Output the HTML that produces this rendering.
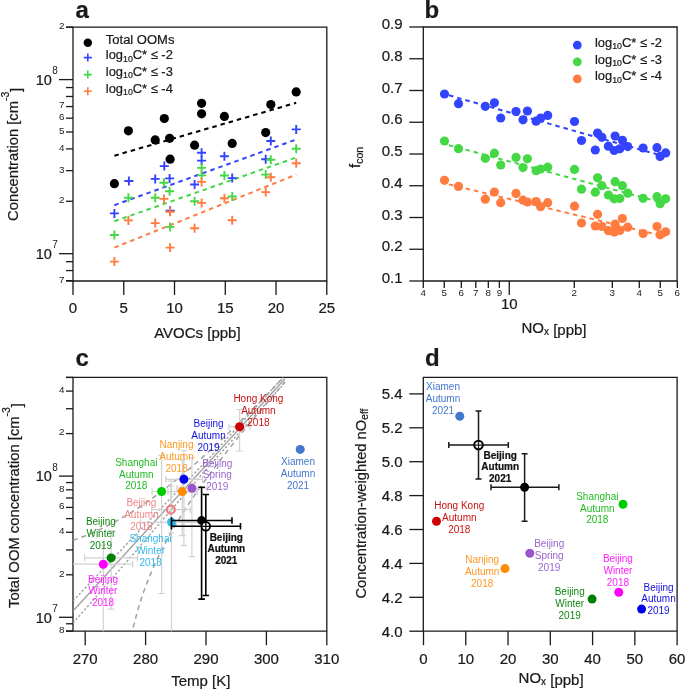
<!DOCTYPE html>
<html><head><meta charset="utf-8"><style>
html,body{margin:0;padding:0;background:#fff;}
svg{display:block;font-family:"Liberation Sans", sans-serif;will-change:transform;}
text{stroke:currentColor;stroke-width:0.22px;}
</style></head><body>
<svg width="685" height="689" viewBox="0 0 685 689">
<rect width="685" height="689" fill="#fff"/>
<g id="pa">
<text x="75.50" y="18.00" font-size="24" text-anchor="start" fill="#1a1a1a" color="#1a1a1a" font-weight="bold" >a</text>
<path d="M73 27.2H326.8V281H73Z" fill="none" stroke="#1a1a1a" stroke-width="1.3"/>
<line x1="59.00" y1="253.70" x2="73.00" y2="253.70" stroke="#1a1a1a" stroke-width="1.3" />
<line x1="59.00" y1="79.60" x2="73.00" y2="79.60" stroke="#1a1a1a" stroke-width="1.3" />
<line x1="66.00" y1="280.67" x2="73.00" y2="280.67" stroke="#1a1a1a" stroke-width="1.3" />
<line x1="66.00" y1="270.57" x2="73.00" y2="270.57" stroke="#1a1a1a" stroke-width="1.3" />
<line x1="66.00" y1="261.67" x2="73.00" y2="261.67" stroke="#1a1a1a" stroke-width="1.3" />
<line x1="66.00" y1="201.29" x2="73.00" y2="201.29" stroke="#1a1a1a" stroke-width="1.3" />
<line x1="66.00" y1="170.63" x2="73.00" y2="170.63" stroke="#1a1a1a" stroke-width="1.3" />
<line x1="66.00" y1="148.88" x2="73.00" y2="148.88" stroke="#1a1a1a" stroke-width="1.3" />
<line x1="66.00" y1="132.01" x2="73.00" y2="132.01" stroke="#1a1a1a" stroke-width="1.3" />
<line x1="66.00" y1="118.22" x2="73.00" y2="118.22" stroke="#1a1a1a" stroke-width="1.3" />
<line x1="66.00" y1="106.57" x2="73.00" y2="106.57" stroke="#1a1a1a" stroke-width="1.3" />
<line x1="66.00" y1="96.47" x2="73.00" y2="96.47" stroke="#1a1a1a" stroke-width="1.3" />
<line x1="66.00" y1="87.57" x2="73.00" y2="87.57" stroke="#1a1a1a" stroke-width="1.3" />
<line x1="66.00" y1="27.19" x2="73.00" y2="27.19" stroke="#1a1a1a" stroke-width="1.3" />
<line x1="66.00" y1="27.20" x2="73.00" y2="27.20" stroke="#1a1a1a" stroke-width="1.3" />
<line x1="66.00" y1="281.00" x2="73.00" y2="281.00" stroke="#1a1a1a" stroke-width="1.3" />
<text x="64.50" y="29.09" font-size="9.8" text-anchor="end" fill="#1a1a1a" color="#1a1a1a" font-weight="normal" style="stroke-width:0" >2</text>
<text x="64.50" y="108.47" font-size="9.8" text-anchor="end" fill="#1a1a1a" color="#1a1a1a" font-weight="normal" style="stroke-width:0" >7</text>
<text x="64.50" y="120.12" font-size="9.8" text-anchor="end" fill="#1a1a1a" color="#1a1a1a" font-weight="normal" style="stroke-width:0" >6</text>
<text x="64.50" y="133.91" font-size="9.8" text-anchor="end" fill="#1a1a1a" color="#1a1a1a" font-weight="normal" style="stroke-width:0" >5</text>
<text x="64.50" y="150.78" font-size="9.8" text-anchor="end" fill="#1a1a1a" color="#1a1a1a" font-weight="normal" style="stroke-width:0" >4</text>
<text x="64.50" y="172.53" font-size="9.8" text-anchor="end" fill="#1a1a1a" color="#1a1a1a" font-weight="normal" style="stroke-width:0" >3</text>
<text x="64.50" y="203.19" font-size="9.8" text-anchor="end" fill="#1a1a1a" color="#1a1a1a" font-weight="normal" style="stroke-width:0" >2</text>
<text x="64.50" y="282.57" font-size="9.8" text-anchor="end" fill="#1a1a1a" color="#1a1a1a" font-weight="normal" style="stroke-width:0" >7</text>
<text x="51.80" y="84.80" font-size="14.5" text-anchor="end" fill="#1a1a1a" color="#1a1a1a" font-weight="normal" >10</text>
<text x="52.30" y="74.10" font-size="10" text-anchor="start" fill="#1a1a1a" color="#1a1a1a" font-weight="normal" style="stroke-width:0" >8</text>
<text x="51.80" y="258.90" font-size="14.5" text-anchor="end" fill="#1a1a1a" color="#1a1a1a" font-weight="normal" >10</text>
<text x="52.30" y="248.20" font-size="10" text-anchor="start" fill="#1a1a1a" color="#1a1a1a" font-weight="normal" style="stroke-width:0" >7</text>
<line x1="73.00" y1="281.00" x2="73.00" y2="295.00" stroke="#1a1a1a" stroke-width="1.3" />
<text x="73.00" y="312.60" font-size="15" text-anchor="middle" fill="#1a1a1a" color="#1a1a1a" font-weight="normal" >0</text>
<line x1="123.76" y1="281.00" x2="123.76" y2="295.00" stroke="#1a1a1a" stroke-width="1.3" />
<text x="123.76" y="312.60" font-size="15" text-anchor="middle" fill="#1a1a1a" color="#1a1a1a" font-weight="normal" >5</text>
<line x1="174.52" y1="281.00" x2="174.52" y2="295.00" stroke="#1a1a1a" stroke-width="1.3" />
<text x="174.52" y="312.60" font-size="15" text-anchor="middle" fill="#1a1a1a" color="#1a1a1a" font-weight="normal" >10</text>
<line x1="225.28" y1="281.00" x2="225.28" y2="295.00" stroke="#1a1a1a" stroke-width="1.3" />
<text x="225.28" y="312.60" font-size="15" text-anchor="middle" fill="#1a1a1a" color="#1a1a1a" font-weight="normal" >15</text>
<line x1="276.04" y1="281.00" x2="276.04" y2="295.00" stroke="#1a1a1a" stroke-width="1.3" />
<text x="276.04" y="312.60" font-size="15" text-anchor="middle" fill="#1a1a1a" color="#1a1a1a" font-weight="normal" >20</text>
<line x1="326.80" y1="281.00" x2="326.80" y2="295.00" stroke="#1a1a1a" stroke-width="1.3" />
<text x="326.80" y="312.60" font-size="15" text-anchor="middle" fill="#1a1a1a" color="#1a1a1a" font-weight="normal" >25</text>
<text x="197.40" y="337.80" font-size="15" text-anchor="middle" fill="#1a1a1a" color="#1a1a1a" font-weight="normal" >AVOCs [ppb]</text>
<text transform="translate(18.4,221) rotate(-90)" font-size="14.8" fill="#1a1a1a" color="#1a1a1a">Concentration [cm<tspan dy="-9.7" font-size="10.5">-3</tspan><tspan dy="12.5" dx="-0.3">]</tspan></text>
<line x1="114.40" y1="155.70" x2="296.20" y2="102.80" stroke="#000" stroke-width="2" stroke-dasharray="4.5 4"/>
<line x1="114.40" y1="205.20" x2="296.20" y2="139.50" stroke="#3344ff" stroke-width="2" stroke-dasharray="4.5 4"/>
<line x1="114.40" y1="221.30" x2="296.20" y2="157.50" stroke="#45d845" stroke-width="2" stroke-dasharray="4.5 4"/>
<line x1="114.40" y1="247.60" x2="296.20" y2="174.60" stroke="#ff7b3f" stroke-width="2" stroke-dasharray="4.5 4"/>
<circle cx="114.40" cy="183.70" r="4.6" fill="#000" stroke="none" stroke-width="0"/>
<circle cx="128.40" cy="130.80" r="4.6" fill="#000" stroke="none" stroke-width="0"/>
<circle cx="164.30" cy="118.50" r="4.6" fill="#000" stroke="none" stroke-width="0"/>
<circle cx="155.20" cy="139.90" r="4.6" fill="#000" stroke="none" stroke-width="0"/>
<circle cx="169.60" cy="138.30" r="4.6" fill="#000" stroke="none" stroke-width="0"/>
<circle cx="170.10" cy="159.20" r="4.6" fill="#000" stroke="none" stroke-width="0"/>
<circle cx="201.60" cy="103.30" r="4.6" fill="#000" stroke="none" stroke-width="0"/>
<circle cx="201.60" cy="113.80" r="4.6" fill="#000" stroke="none" stroke-width="0"/>
<circle cx="194.60" cy="145.20" r="4.6" fill="#000" stroke="none" stroke-width="0"/>
<circle cx="224.40" cy="116.40" r="4.6" fill="#000" stroke="none" stroke-width="0"/>
<circle cx="270.80" cy="104.50" r="4.6" fill="#000" stroke="none" stroke-width="0"/>
<circle cx="296.20" cy="91.90" r="4.6" fill="#000" stroke="none" stroke-width="0"/>
<circle cx="232.20" cy="143.40" r="4.6" fill="#000" stroke="none" stroke-width="0"/>
<circle cx="265.70" cy="132.60" r="4.6" fill="#000" stroke="none" stroke-width="0"/>
<path d="M109.90 213.40H118.90M114.40 208.90V217.90" stroke="#3344ff" stroke-width="1.9" fill="none"/>
<path d="M124.40 181.00H133.40M128.90 176.50V185.50" stroke="#3344ff" stroke-width="1.9" fill="none"/>
<path d="M150.70 178.90H159.70M155.20 174.40V183.40" stroke="#3344ff" stroke-width="1.9" fill="none"/>
<path d="M159.80 166.10H168.80M164.30 161.60V170.60" stroke="#3344ff" stroke-width="1.9" fill="none"/>
<path d="M165.10 178.40H174.10M169.60 173.90V182.90" stroke="#3344ff" stroke-width="1.9" fill="none"/>
<path d="M165.60 210.80H174.60M170.10 206.30V215.30" stroke="#3344ff" stroke-width="1.9" fill="none"/>
<path d="M190.10 184.50H199.10M194.60 180.00V189.00" stroke="#3344ff" stroke-width="1.9" fill="none"/>
<path d="M197.10 152.70H206.10M201.60 148.20V157.20" stroke="#3344ff" stroke-width="1.9" fill="none"/>
<path d="M197.10 160.60H206.10M201.60 156.10V165.10" stroke="#3344ff" stroke-width="1.9" fill="none"/>
<path d="M219.90 156.20H228.90M224.40 151.70V160.70" stroke="#3344ff" stroke-width="1.9" fill="none"/>
<path d="M227.70 178.10H236.70M232.20 173.60V182.60" stroke="#3344ff" stroke-width="1.9" fill="none"/>
<path d="M261.20 159.20H270.20M265.70 154.70V163.70" stroke="#3344ff" stroke-width="1.9" fill="none"/>
<path d="M266.30 141.00H275.30M270.80 136.50V145.50" stroke="#3344ff" stroke-width="1.9" fill="none"/>
<path d="M291.70 129.40H300.70M296.20 124.90V133.90" stroke="#3344ff" stroke-width="1.9" fill="none"/>
<path d="M109.90 235.00H118.90M114.40 230.50V239.50" stroke="#45d845" stroke-width="1.9" fill="none"/>
<path d="M123.90 197.70H132.90M128.40 193.20V202.20" stroke="#45d845" stroke-width="1.9" fill="none"/>
<path d="M150.70 197.70H159.70M155.20 193.20V202.20" stroke="#45d845" stroke-width="1.9" fill="none"/>
<path d="M159.40 182.80H168.40M163.90 178.30V187.30" stroke="#45d845" stroke-width="1.9" fill="none"/>
<path d="M165.10 191.20H174.10M169.60 186.70V195.70" stroke="#45d845" stroke-width="1.9" fill="none"/>
<path d="M165.60 226.90H174.60M170.10 222.40V231.40" stroke="#45d845" stroke-width="1.9" fill="none"/>
<path d="M190.10 201.20H199.10M194.60 196.70V205.70" stroke="#45d845" stroke-width="1.9" fill="none"/>
<path d="M197.10 167.90H206.10M201.60 163.40V172.40" stroke="#45d845" stroke-width="1.9" fill="none"/>
<path d="M197.10 175.40H206.10M201.60 170.90V179.90" stroke="#45d845" stroke-width="1.9" fill="none"/>
<path d="M219.90 175.50H228.90M224.40 171.00V180.00" stroke="#45d845" stroke-width="1.9" fill="none"/>
<path d="M227.70 196.50H236.70M232.20 192.00V201.00" stroke="#45d845" stroke-width="1.9" fill="none"/>
<path d="M261.20 174.60H270.20M265.70 170.10V179.10" stroke="#45d845" stroke-width="1.9" fill="none"/>
<path d="M266.30 159.70H275.30M270.80 155.20V164.20" stroke="#45d845" stroke-width="1.9" fill="none"/>
<path d="M291.70 148.70H300.70M296.20 144.20V153.20" stroke="#45d845" stroke-width="1.9" fill="none"/>
<path d="M109.90 261.60H118.90M114.40 257.10V266.10" stroke="#ff7b3f" stroke-width="1.9" fill="none"/>
<path d="M123.90 220.40H132.90M128.40 215.90V224.90" stroke="#ff7b3f" stroke-width="1.9" fill="none"/>
<path d="M150.70 223.10H159.70M155.20 218.60V227.60" stroke="#ff7b3f" stroke-width="1.9" fill="none"/>
<path d="M159.40 198.90H168.40M163.90 194.40V203.40" stroke="#ff7b3f" stroke-width="1.9" fill="none"/>
<path d="M165.60 211.70H174.60M170.10 207.20V216.20" stroke="#ff7b3f" stroke-width="1.9" fill="none"/>
<path d="M165.60 247.60H174.60M170.10 243.10V252.10" stroke="#ff7b3f" stroke-width="1.9" fill="none"/>
<path d="M190.10 228.30H199.10M194.60 223.80V232.80" stroke="#ff7b3f" stroke-width="1.9" fill="none"/>
<path d="M197.10 181.90H206.10M201.60 177.40V186.40" stroke="#ff7b3f" stroke-width="1.9" fill="none"/>
<path d="M197.10 202.90H206.10M201.60 198.40V207.40" stroke="#ff7b3f" stroke-width="1.9" fill="none"/>
<path d="M219.90 198.30H228.90M224.40 193.80V202.80" stroke="#ff7b3f" stroke-width="1.9" fill="none"/>
<path d="M227.70 220.30H236.70M232.20 215.80V224.80" stroke="#ff7b3f" stroke-width="1.9" fill="none"/>
<path d="M261.20 192.10H270.20M265.70 187.60V196.60" stroke="#ff7b3f" stroke-width="1.9" fill="none"/>
<path d="M266.30 177.20H275.30M270.80 172.70V181.70" stroke="#ff7b3f" stroke-width="1.9" fill="none"/>
<path d="M291.70 163.20H300.70M296.20 158.70V167.70" stroke="#ff7b3f" stroke-width="1.9" fill="none"/>
<circle cx="87.80" cy="42.80" r="4.2" fill="#000" stroke="none" stroke-width="0"/>
<path d="M83.80 57.60H91.80M87.80 53.60V61.60" stroke="#3344ff" stroke-width="1.6" fill="none"/>
<path d="M83.80 74.60H91.80M87.80 70.60V78.60" stroke="#45d845" stroke-width="1.6" fill="none"/>
<path d="M83.80 91.30H91.80M87.80 87.30V95.30" stroke="#ff7b3f" stroke-width="1.6" fill="none"/>
<text x="105.80" y="44.30" font-size="13" text-anchor="start" fill="#1a1a1a" color="#1a1a1a" font-weight="normal" >Total OOMs</text>
<text x="105.8" y="58.9" font-size="12.9" fill="#1a1a1a" color="#1a1a1a">log<tspan font-size="8.8" dy="2.6">10</tspan><tspan dy="-2.6">C* &#8804; -2</tspan></text>
<text x="105.8" y="75.7" font-size="12.9" fill="#1a1a1a" color="#1a1a1a">log<tspan font-size="8.8" dy="2.6">10</tspan><tspan dy="-2.6">C* &#8804; -3</tspan></text>
<text x="105.8" y="92.5" font-size="12.9" fill="#1a1a1a" color="#1a1a1a">log<tspan font-size="8.8" dy="2.6">10</tspan><tspan dy="-2.6">C* &#8804; -4</tspan></text>
</g>
<g id="pb">
<text x="424.60" y="17.50" font-size="24" text-anchor="start" fill="#1a1a1a" color="#1a1a1a" font-weight="bold" >b</text>
<path d="M423.3 27.0H677.1V281H423.3Z" fill="none" stroke="#1a1a1a" stroke-width="1.3"/>
<line x1="409.30" y1="281.00" x2="423.30" y2="281.00" stroke="#1a1a1a" stroke-width="1.3" />
<text x="402.50" y="283.00" font-size="15" text-anchor="end" fill="#1a1a1a" color="#1a1a1a" font-weight="normal" >0.1</text>
<line x1="409.30" y1="249.25" x2="423.30" y2="249.25" stroke="#1a1a1a" stroke-width="1.3" />
<text x="402.50" y="251.25" font-size="15" text-anchor="end" fill="#1a1a1a" color="#1a1a1a" font-weight="normal" >0.2</text>
<line x1="409.30" y1="217.50" x2="423.30" y2="217.50" stroke="#1a1a1a" stroke-width="1.3" />
<text x="402.50" y="219.50" font-size="15" text-anchor="end" fill="#1a1a1a" color="#1a1a1a" font-weight="normal" >0.3</text>
<line x1="409.30" y1="185.75" x2="423.30" y2="185.75" stroke="#1a1a1a" stroke-width="1.3" />
<text x="402.50" y="187.75" font-size="15" text-anchor="end" fill="#1a1a1a" color="#1a1a1a" font-weight="normal" >0.4</text>
<line x1="409.30" y1="154.00" x2="423.30" y2="154.00" stroke="#1a1a1a" stroke-width="1.3" />
<text x="402.50" y="156.00" font-size="15" text-anchor="end" fill="#1a1a1a" color="#1a1a1a" font-weight="normal" >0.5</text>
<line x1="409.30" y1="122.25" x2="423.30" y2="122.25" stroke="#1a1a1a" stroke-width="1.3" />
<text x="402.50" y="124.25" font-size="15" text-anchor="end" fill="#1a1a1a" color="#1a1a1a" font-weight="normal" >0.6</text>
<line x1="409.30" y1="90.50" x2="423.30" y2="90.50" stroke="#1a1a1a" stroke-width="1.3" />
<text x="402.50" y="92.50" font-size="15" text-anchor="end" fill="#1a1a1a" color="#1a1a1a" font-weight="normal" >0.7</text>
<line x1="409.30" y1="58.75" x2="423.30" y2="58.75" stroke="#1a1a1a" stroke-width="1.3" />
<text x="402.50" y="60.75" font-size="15" text-anchor="end" fill="#1a1a1a" color="#1a1a1a" font-weight="normal" >0.8</text>
<line x1="409.30" y1="27.00" x2="423.30" y2="27.00" stroke="#1a1a1a" stroke-width="1.3" />
<text x="402.50" y="29.00" font-size="15" text-anchor="end" fill="#1a1a1a" color="#1a1a1a" font-weight="normal" >0.9</text>
<line x1="423.30" y1="281.00" x2="423.30" y2="288.00" stroke="#1a1a1a" stroke-width="1.3" />
<text x="423.30" y="295.70" font-size="9.8" text-anchor="middle" fill="#1a1a1a" color="#1a1a1a" font-weight="normal" style="stroke-width:0" >4</text>
<line x1="444.23" y1="281.00" x2="444.23" y2="288.00" stroke="#1a1a1a" stroke-width="1.3" />
<text x="444.23" y="295.70" font-size="9.8" text-anchor="middle" fill="#1a1a1a" color="#1a1a1a" font-weight="normal" style="stroke-width:0" >5</text>
<line x1="461.34" y1="281.00" x2="461.34" y2="288.00" stroke="#1a1a1a" stroke-width="1.3" />
<text x="461.34" y="295.70" font-size="9.8" text-anchor="middle" fill="#1a1a1a" color="#1a1a1a" font-weight="normal" style="stroke-width:0" >6</text>
<line x1="475.80" y1="281.00" x2="475.80" y2="288.00" stroke="#1a1a1a" stroke-width="1.3" />
<text x="475.80" y="295.70" font-size="9.8" text-anchor="middle" fill="#1a1a1a" color="#1a1a1a" font-weight="normal" style="stroke-width:0" >7</text>
<line x1="488.32" y1="281.00" x2="488.32" y2="288.00" stroke="#1a1a1a" stroke-width="1.3" />
<text x="488.32" y="295.70" font-size="9.8" text-anchor="middle" fill="#1a1a1a" color="#1a1a1a" font-weight="normal" style="stroke-width:0" >8</text>
<line x1="499.37" y1="281.00" x2="499.37" y2="288.00" stroke="#1a1a1a" stroke-width="1.3" />
<text x="499.37" y="295.70" font-size="9.8" text-anchor="middle" fill="#1a1a1a" color="#1a1a1a" font-weight="normal" style="stroke-width:0" >9</text>
<line x1="574.28" y1="281.00" x2="574.28" y2="288.00" stroke="#1a1a1a" stroke-width="1.3" />
<text x="574.28" y="295.70" font-size="9.8" text-anchor="middle" fill="#1a1a1a" color="#1a1a1a" font-weight="normal" style="stroke-width:0" >2</text>
<line x1="612.31" y1="281.00" x2="612.31" y2="288.00" stroke="#1a1a1a" stroke-width="1.3" />
<text x="612.31" y="295.70" font-size="9.8" text-anchor="middle" fill="#1a1a1a" color="#1a1a1a" font-weight="normal" style="stroke-width:0" >3</text>
<line x1="639.30" y1="281.00" x2="639.30" y2="288.00" stroke="#1a1a1a" stroke-width="1.3" />
<text x="639.30" y="295.70" font-size="9.8" text-anchor="middle" fill="#1a1a1a" color="#1a1a1a" font-weight="normal" style="stroke-width:0" >4</text>
<line x1="660.23" y1="281.00" x2="660.23" y2="288.00" stroke="#1a1a1a" stroke-width="1.3" />
<text x="660.23" y="295.70" font-size="9.8" text-anchor="middle" fill="#1a1a1a" color="#1a1a1a" font-weight="normal" style="stroke-width:0" >5</text>
<line x1="677.34" y1="281.00" x2="677.34" y2="288.00" stroke="#1a1a1a" stroke-width="1.3" />
<text x="677.34" y="295.70" font-size="9.8" text-anchor="middle" fill="#1a1a1a" color="#1a1a1a" font-weight="normal" style="stroke-width:0" >6</text>
<line x1="509.26" y1="281.00" x2="509.26" y2="295.00" stroke="#1a1a1a" stroke-width="1.3" />
<text x="509.26" y="309.30" font-size="15" text-anchor="middle" fill="#1a1a1a" color="#1a1a1a" font-weight="normal" >10</text>
<text x="521.5" y="332.5" font-size="15" fill="#1a1a1a" color="#1a1a1a">NO<tspan font-size="10" dy="2.6">x</tspan><tspan dy="0.1" font-size="15"> [ppb]</tspan></text>
<text transform="translate(359.8,168) rotate(-90)" font-size="15" fill="#1a1a1a" color="#1a1a1a">f<tspan font-size="10.5" dy="3">con</tspan></text>
<line x1="449.00" y1="95.30" x2="665.00" y2="156.60" stroke="#3344ff" stroke-width="2" stroke-dasharray="4.5 4"/>
<line x1="449.00" y1="145.20" x2="665.00" y2="203.40" stroke="#45d845" stroke-width="2" stroke-dasharray="4.5 4"/>
<line x1="449.00" y1="184.40" x2="665.00" y2="236.50" stroke="#ff7b3f" stroke-width="2" stroke-dasharray="4.5 4"/>
<circle cx="444.50" cy="94.00" r="4.6" fill="#3344ff" stroke="none" stroke-width="0"/>
<circle cx="458.50" cy="103.70" r="4.6" fill="#3344ff" stroke="none" stroke-width="0"/>
<circle cx="485.30" cy="106.30" r="4.6" fill="#3344ff" stroke="none" stroke-width="0"/>
<circle cx="494.40" cy="102.80" r="4.6" fill="#3344ff" stroke="none" stroke-width="0"/>
<circle cx="500.70" cy="118.00" r="4.6" fill="#3344ff" stroke="none" stroke-width="0"/>
<circle cx="516.00" cy="111.50" r="4.6" fill="#3344ff" stroke="none" stroke-width="0"/>
<circle cx="523.00" cy="119.80" r="4.6" fill="#3344ff" stroke="none" stroke-width="0"/>
<circle cx="527.40" cy="111.00" r="4.6" fill="#3344ff" stroke="none" stroke-width="0"/>
<circle cx="536.10" cy="121.20" r="4.6" fill="#3344ff" stroke="none" stroke-width="0"/>
<circle cx="540.60" cy="118.20" r="4.6" fill="#3344ff" stroke="none" stroke-width="0"/>
<circle cx="547.70" cy="115.40" r="4.6" fill="#3344ff" stroke="none" stroke-width="0"/>
<circle cx="574.50" cy="121.50" r="4.6" fill="#3344ff" stroke="none" stroke-width="0"/>
<circle cx="581.50" cy="140.50" r="4.6" fill="#3344ff" stroke="none" stroke-width="0"/>
<circle cx="595.30" cy="150.00" r="4.6" fill="#3344ff" stroke="none" stroke-width="0"/>
<circle cx="597.60" cy="133.00" r="4.6" fill="#3344ff" stroke="none" stroke-width="0"/>
<circle cx="601.90" cy="137.30" r="4.6" fill="#3344ff" stroke="none" stroke-width="0"/>
<circle cx="608.40" cy="146.20" r="4.6" fill="#3344ff" stroke="none" stroke-width="0"/>
<circle cx="614.20" cy="150.50" r="4.6" fill="#3344ff" stroke="none" stroke-width="0"/>
<circle cx="615.10" cy="136.00" r="4.6" fill="#3344ff" stroke="none" stroke-width="0"/>
<circle cx="619.80" cy="148.80" r="4.6" fill="#3344ff" stroke="none" stroke-width="0"/>
<circle cx="622.40" cy="140.30" r="4.6" fill="#3344ff" stroke="none" stroke-width="0"/>
<circle cx="627.70" cy="146.60" r="4.6" fill="#3344ff" stroke="none" stroke-width="0"/>
<circle cx="643.10" cy="148.00" r="4.6" fill="#3344ff" stroke="none" stroke-width="0"/>
<circle cx="657.00" cy="147.70" r="4.6" fill="#3344ff" stroke="none" stroke-width="0"/>
<circle cx="660.10" cy="156.40" r="4.6" fill="#3344ff" stroke="none" stroke-width="0"/>
<circle cx="665.70" cy="152.90" r="4.6" fill="#3344ff" stroke="none" stroke-width="0"/>
<circle cx="444.50" cy="141.00" r="4.6" fill="#45d845" stroke="none" stroke-width="0"/>
<circle cx="458.50" cy="148.70" r="4.6" fill="#45d845" stroke="none" stroke-width="0"/>
<circle cx="485.30" cy="158.30" r="4.6" fill="#45d845" stroke="none" stroke-width="0"/>
<circle cx="494.40" cy="153.20" r="4.6" fill="#45d845" stroke="none" stroke-width="0"/>
<circle cx="500.70" cy="165.00" r="4.6" fill="#45d845" stroke="none" stroke-width="0"/>
<circle cx="516.00" cy="157.40" r="4.6" fill="#45d845" stroke="none" stroke-width="0"/>
<circle cx="523.00" cy="167.60" r="4.6" fill="#45d845" stroke="none" stroke-width="0"/>
<circle cx="527.40" cy="158.80" r="4.6" fill="#45d845" stroke="none" stroke-width="0"/>
<circle cx="536.10" cy="170.70" r="4.6" fill="#45d845" stroke="none" stroke-width="0"/>
<circle cx="540.60" cy="169.00" r="4.6" fill="#45d845" stroke="none" stroke-width="0"/>
<circle cx="547.70" cy="167.20" r="4.6" fill="#45d845" stroke="none" stroke-width="0"/>
<circle cx="574.50" cy="169.40" r="4.6" fill="#45d845" stroke="none" stroke-width="0"/>
<circle cx="581.50" cy="189.20" r="4.6" fill="#45d845" stroke="none" stroke-width="0"/>
<circle cx="595.30" cy="192.20" r="4.6" fill="#45d845" stroke="none" stroke-width="0"/>
<circle cx="597.60" cy="177.80" r="4.6" fill="#45d845" stroke="none" stroke-width="0"/>
<circle cx="601.90" cy="185.70" r="4.6" fill="#45d845" stroke="none" stroke-width="0"/>
<circle cx="608.40" cy="195.00" r="4.6" fill="#45d845" stroke="none" stroke-width="0"/>
<circle cx="614.20" cy="198.80" r="4.6" fill="#45d845" stroke="none" stroke-width="0"/>
<circle cx="615.10" cy="181.70" r="4.6" fill="#45d845" stroke="none" stroke-width="0"/>
<circle cx="619.80" cy="198.50" r="4.6" fill="#45d845" stroke="none" stroke-width="0"/>
<circle cx="622.40" cy="185.70" r="4.6" fill="#45d845" stroke="none" stroke-width="0"/>
<circle cx="627.70" cy="193.20" r="4.6" fill="#45d845" stroke="none" stroke-width="0"/>
<circle cx="643.10" cy="198.30" r="4.6" fill="#45d845" stroke="none" stroke-width="0"/>
<circle cx="657.00" cy="196.70" r="4.6" fill="#45d845" stroke="none" stroke-width="0"/>
<circle cx="660.10" cy="203.70" r="4.6" fill="#45d845" stroke="none" stroke-width="0"/>
<circle cx="665.70" cy="198.80" r="4.6" fill="#45d845" stroke="none" stroke-width="0"/>
<circle cx="444.50" cy="180.30" r="4.6" fill="#ff7b3f" stroke="none" stroke-width="0"/>
<circle cx="458.50" cy="186.40" r="4.6" fill="#ff7b3f" stroke="none" stroke-width="0"/>
<circle cx="485.30" cy="199.20" r="4.6" fill="#ff7b3f" stroke="none" stroke-width="0"/>
<circle cx="494.40" cy="192.00" r="4.6" fill="#ff7b3f" stroke="none" stroke-width="0"/>
<circle cx="500.70" cy="202.70" r="4.6" fill="#ff7b3f" stroke="none" stroke-width="0"/>
<circle cx="516.00" cy="193.40" r="4.6" fill="#ff7b3f" stroke="none" stroke-width="0"/>
<circle cx="523.00" cy="200.20" r="4.6" fill="#ff7b3f" stroke="none" stroke-width="0"/>
<circle cx="527.40" cy="202.00" r="4.6" fill="#ff7b3f" stroke="none" stroke-width="0"/>
<circle cx="536.10" cy="201.60" r="4.6" fill="#ff7b3f" stroke="none" stroke-width="0"/>
<circle cx="540.60" cy="206.70" r="4.6" fill="#ff7b3f" stroke="none" stroke-width="0"/>
<circle cx="547.70" cy="202.70" r="4.6" fill="#ff7b3f" stroke="none" stroke-width="0"/>
<circle cx="574.50" cy="206.20" r="4.6" fill="#ff7b3f" stroke="none" stroke-width="0"/>
<circle cx="581.50" cy="223.00" r="4.6" fill="#ff7b3f" stroke="none" stroke-width="0"/>
<circle cx="595.30" cy="226.00" r="4.6" fill="#ff7b3f" stroke="none" stroke-width="0"/>
<circle cx="597.60" cy="214.30" r="4.6" fill="#ff7b3f" stroke="none" stroke-width="0"/>
<circle cx="601.90" cy="226.50" r="4.6" fill="#ff7b3f" stroke="none" stroke-width="0"/>
<circle cx="608.40" cy="230.70" r="4.6" fill="#ff7b3f" stroke="none" stroke-width="0"/>
<circle cx="614.20" cy="232.10" r="4.6" fill="#ff7b3f" stroke="none" stroke-width="0"/>
<circle cx="615.10" cy="224.20" r="4.6" fill="#ff7b3f" stroke="none" stroke-width="0"/>
<circle cx="619.80" cy="230.40" r="4.6" fill="#ff7b3f" stroke="none" stroke-width="0"/>
<circle cx="622.40" cy="218.50" r="4.6" fill="#ff7b3f" stroke="none" stroke-width="0"/>
<circle cx="627.70" cy="227.20" r="4.6" fill="#ff7b3f" stroke="none" stroke-width="0"/>
<circle cx="643.10" cy="233.50" r="4.6" fill="#ff7b3f" stroke="none" stroke-width="0"/>
<circle cx="657.00" cy="226.50" r="4.6" fill="#ff7b3f" stroke="none" stroke-width="0"/>
<circle cx="660.10" cy="234.80" r="4.6" fill="#ff7b3f" stroke="none" stroke-width="0"/>
<circle cx="665.70" cy="231.80" r="4.6" fill="#ff7b3f" stroke="none" stroke-width="0"/>
<circle cx="577.30" cy="45.10" r="4.4" fill="#3344ff" stroke="none" stroke-width="0"/>
<circle cx="577.30" cy="61.80" r="4.4" fill="#45d845" stroke="none" stroke-width="0"/>
<circle cx="577.30" cy="78.80" r="4.4" fill="#ff7b3f" stroke="none" stroke-width="0"/>
<text x="595" y="46.7" font-size="12.9" fill="#1a1a1a" color="#1a1a1a">log<tspan font-size="8.8" dy="2.6">10</tspan><tspan dy="-2.6">C* &#8804; -2</tspan></text>
<text x="595" y="63.5" font-size="12.9" fill="#1a1a1a" color="#1a1a1a">log<tspan font-size="8.8" dy="2.6">10</tspan><tspan dy="-2.6">C* &#8804; -3</tspan></text>
<text x="595" y="80.3" font-size="12.9" fill="#1a1a1a" color="#1a1a1a">log<tspan font-size="8.8" dy="2.6">10</tspan><tspan dy="-2.6">C* &#8804; -4</tspan></text>
</g>
<g id="pc">
<text x="75.50" y="365.50" font-size="24" text-anchor="start" fill="#1a1a1a" color="#1a1a1a" font-weight="bold" >c</text>
<path d="M73 377.4H326.8V631.2H73Z" fill="none" stroke="#1a1a1a" stroke-width="1.3"/>
<line x1="66.00" y1="377.40" x2="73.00" y2="377.40" stroke="#1a1a1a" stroke-width="1.3" />
<line x1="66.00" y1="631.20" x2="73.00" y2="631.20" stroke="#1a1a1a" stroke-width="1.3" />
<line x1="59.00" y1="617.30" x2="73.00" y2="617.30" stroke="#1a1a1a" stroke-width="1.3" />
<line x1="59.00" y1="476.10" x2="73.00" y2="476.10" stroke="#1a1a1a" stroke-width="1.3" />
<line x1="66.00" y1="630.98" x2="73.00" y2="630.98" stroke="#1a1a1a" stroke-width="1.3" />
<line x1="66.00" y1="623.76" x2="73.00" y2="623.76" stroke="#1a1a1a" stroke-width="1.3" />
<line x1="66.00" y1="574.79" x2="73.00" y2="574.79" stroke="#1a1a1a" stroke-width="1.3" />
<line x1="66.00" y1="549.93" x2="73.00" y2="549.93" stroke="#1a1a1a" stroke-width="1.3" />
<line x1="66.00" y1="532.29" x2="73.00" y2="532.29" stroke="#1a1a1a" stroke-width="1.3" />
<line x1="66.00" y1="518.61" x2="73.00" y2="518.61" stroke="#1a1a1a" stroke-width="1.3" />
<line x1="66.00" y1="507.43" x2="73.00" y2="507.43" stroke="#1a1a1a" stroke-width="1.3" />
<line x1="66.00" y1="497.97" x2="73.00" y2="497.97" stroke="#1a1a1a" stroke-width="1.3" />
<line x1="66.00" y1="489.78" x2="73.00" y2="489.78" stroke="#1a1a1a" stroke-width="1.3" />
<line x1="66.00" y1="482.56" x2="73.00" y2="482.56" stroke="#1a1a1a" stroke-width="1.3" />
<line x1="66.00" y1="433.59" x2="73.00" y2="433.59" stroke="#1a1a1a" stroke-width="1.3" />
<line x1="66.00" y1="408.73" x2="73.00" y2="408.73" stroke="#1a1a1a" stroke-width="1.3" />
<line x1="66.00" y1="391.09" x2="73.00" y2="391.09" stroke="#1a1a1a" stroke-width="1.3" />
<line x1="66.00" y1="377.41" x2="73.00" y2="377.41" stroke="#1a1a1a" stroke-width="1.3" />
<text x="64.50" y="392.99" font-size="9.8" text-anchor="end" fill="#1a1a1a" color="#1a1a1a" font-weight="normal" style="stroke-width:0" >4</text>
<text x="64.50" y="435.49" font-size="9.8" text-anchor="end" fill="#1a1a1a" color="#1a1a1a" font-weight="normal" style="stroke-width:0" >2</text>
<text x="64.50" y="491.68" font-size="9.8" text-anchor="end" fill="#1a1a1a" color="#1a1a1a" font-weight="normal" style="stroke-width:0" >8</text>
<text x="64.50" y="509.33" font-size="9.8" text-anchor="end" fill="#1a1a1a" color="#1a1a1a" font-weight="normal" style="stroke-width:0" >6</text>
<text x="64.50" y="534.19" font-size="9.8" text-anchor="end" fill="#1a1a1a" color="#1a1a1a" font-weight="normal" style="stroke-width:0" >4</text>
<text x="64.50" y="576.69" font-size="9.8" text-anchor="end" fill="#1a1a1a" color="#1a1a1a" font-weight="normal" style="stroke-width:0" >2</text>
<text x="64.50" y="632.88" font-size="9.8" text-anchor="end" fill="#1a1a1a" color="#1a1a1a" font-weight="normal" style="stroke-width:0" >8</text>
<text x="51.80" y="481.30" font-size="14.5" text-anchor="end" fill="#1a1a1a" color="#1a1a1a" font-weight="normal" >10</text>
<text x="52.30" y="470.60" font-size="10" text-anchor="start" fill="#1a1a1a" color="#1a1a1a" font-weight="normal" style="stroke-width:0" >8</text>
<text x="51.80" y="622.50" font-size="14.5" text-anchor="end" fill="#1a1a1a" color="#1a1a1a" font-weight="normal" >10</text>
<text x="52.30" y="611.80" font-size="10" text-anchor="start" fill="#1a1a1a" color="#1a1a1a" font-weight="normal" style="stroke-width:0" >7</text>
<line x1="85.20" y1="631.20" x2="85.20" y2="645.20" stroke="#1a1a1a" stroke-width="1.3" />
<text x="85.20" y="663.60" font-size="15" text-anchor="middle" fill="#1a1a1a" color="#1a1a1a" font-weight="normal" >270</text>
<line x1="145.60" y1="631.20" x2="145.60" y2="645.20" stroke="#1a1a1a" stroke-width="1.3" />
<text x="145.60" y="663.60" font-size="15" text-anchor="middle" fill="#1a1a1a" color="#1a1a1a" font-weight="normal" >280</text>
<line x1="206.00" y1="631.20" x2="206.00" y2="645.20" stroke="#1a1a1a" stroke-width="1.3" />
<text x="206.00" y="663.60" font-size="15" text-anchor="middle" fill="#1a1a1a" color="#1a1a1a" font-weight="normal" >290</text>
<line x1="266.40" y1="631.20" x2="266.40" y2="645.20" stroke="#1a1a1a" stroke-width="1.3" />
<text x="266.40" y="663.60" font-size="15" text-anchor="middle" fill="#1a1a1a" color="#1a1a1a" font-weight="normal" >300</text>
<line x1="326.80" y1="631.20" x2="326.80" y2="645.20" stroke="#1a1a1a" stroke-width="1.3" />
<text x="326.80" y="663.60" font-size="15" text-anchor="middle" fill="#1a1a1a" color="#1a1a1a" font-weight="normal" >310</text>
<text x="200.80" y="686.00" font-size="15" text-anchor="middle" fill="#1a1a1a" color="#1a1a1a" font-weight="normal" >Temp [K]</text>
<text transform="translate(19.2,608) rotate(-90)" font-size="14.8" fill="#1a1a1a" color="#1a1a1a">Total OOM concentration [cm<tspan dy="-9.7" font-size="10.5">-3</tspan><tspan dy="12.5" dx="-0.3">]</tspan></text>
<clipPath id="cclip"><rect x="73" y="377.4" width="253.8" height="253.80000000000007"/></clipPath>
<g clip-path="url(#cclip)" fill="none">
<path d="M73.00 540.37 L76.53 539.12 L80.07 537.81 L83.60 536.46 L87.13 535.04 L90.67 533.57 L94.20 532.04 L97.73 530.46 L101.27 528.81 L104.80 527.10 L108.33 525.33 L111.87 523.50 L115.40 521.61 L118.93 519.66 L122.47 517.65 L126.00 515.58 L129.53 513.45 L133.07 511.25 L136.60 509.00 L140.13 506.69 L143.67 504.31 L147.20 501.89 L150.73 499.40 L154.27 496.86 L157.80 494.26 L161.33 491.61 L164.87 488.91 L168.40 486.16 L171.93 483.36 L175.47 480.51 L179.00 477.61 L182.53 474.67 L186.07 471.68 L189.60 468.65 L193.13 465.58 L196.67 462.47 L200.20 459.33 L203.73 456.14 L207.27 452.92 L210.80 449.67 L214.33 446.39 L217.87 443.07 L221.40 439.73 L224.93 436.36 L228.47 432.96 L232.00 429.53 L235.53 426.08 L239.07 422.61 L242.60 419.11 L246.13 415.60 L249.67 412.06 L253.20 408.51 L256.73 404.93 L260.27 401.34 L263.80 397.74 L267.33 394.12 L270.87 390.48 L274.40 386.83 L277.93 383.17 L281.47 379.50 L285.00 375.81" stroke="#a0a0a0" stroke-width="1.5" stroke-dasharray="5 4"/>
<path d="M133.23 627.50 L135.85 617.17 L138.47 607.93 L141.08 599.55 L143.70 591.84 L146.32 584.69 L148.93 577.99 L151.55 571.68 L154.17 565.70 L156.78 560.00 L159.40 554.54 L162.02 549.31 L164.63 544.26 L167.25 539.38 L169.87 534.65 L172.48 530.06 L175.10 525.59 L177.72 521.24 L180.33 516.98 L182.95 512.82 L185.57 508.74 L188.18 504.74 L190.80 500.80 L193.42 496.94 L196.03 493.13 L198.65 489.38 L201.27 485.69 L203.88 482.04 L206.50 478.43 L209.12 474.87 L211.73 471.35 L214.35 467.86 L216.97 464.41 L219.58 460.99 L222.20 457.60 L224.82 454.23 L227.43 450.90 L230.05 447.58 L232.67 444.29 L235.28 441.03 L237.90 437.78 L240.52 434.55 L243.13 431.35 L245.75 428.16 L248.37 424.98 L250.98 421.82 L253.60 418.68 L256.22 415.55 L258.83 412.43 L261.45 409.32 L264.07 406.23 L266.68 403.15 L269.30 400.07 L271.92 397.01 L274.53 393.96 L277.15 390.91 L279.77 387.88 L282.38 384.85 L285.00 381.83" stroke="#a0a0a0" stroke-width="1.5" stroke-dasharray="5 4"/>
<path d="M73.00 600.95 L76.53 597.21 L80.07 593.46 L83.60 589.72 L87.13 585.98 L90.67 582.24 L94.20 578.49 L97.73 574.75 L101.27 571.01 L104.80 567.27 L108.33 563.53 L111.87 559.79 L115.40 556.05 L118.93 552.31 L122.47 548.57 L126.00 544.83 L129.53 541.09 L133.07 537.39 L136.60 533.70 L140.13 530.01 L143.67 526.33 L147.20 522.64 L150.73 518.95 L154.27 515.27 L157.80 511.58 L161.33 507.90 L164.87 504.21 L168.40 500.53 L171.93 496.85 L175.47 493.16 L179.00 489.48 L182.53 485.80 L186.07 482.12 L189.60 478.44 L193.13 474.76 L196.67 471.08 L200.20 467.40 L203.73 463.72 L207.27 460.05 L210.80 456.37 L214.33 452.52 L217.87 448.65 L221.40 444.78 L224.93 440.91 L228.47 437.05 L232.00 433.18 L235.53 429.31 L239.07 425.45 L242.60 421.58 L246.13 417.71 L249.67 413.84 L253.20 409.98 L256.73 406.11 L260.27 402.24 L263.80 398.38 L267.33 394.51 L270.87 390.64 L274.40 386.78 L277.93 382.91 L281.47 379.04 L285.00 375.17" stroke="#a0a0a0" stroke-width="1.4" stroke-dasharray="2.3 2"/>
<path d="M73.00 623.27 L76.53 619.21 L80.07 615.15 L83.60 611.10 L87.13 607.04 L90.67 602.99 L94.20 598.93 L97.73 594.88 L101.27 590.82 L104.80 586.77 L108.33 582.72 L111.87 578.67 L115.40 574.61 L118.93 570.56 L122.47 566.51 L126.00 562.46 L129.53 558.41 L133.07 554.31 L136.60 550.19 L140.13 546.08 L143.67 541.97 L147.20 537.86 L150.73 533.75 L154.27 529.64 L157.80 525.53 L161.33 521.42 L164.87 517.31 L168.40 513.21 L171.93 509.10 L175.47 505.00 L179.00 500.90 L182.53 496.80 L186.07 492.69 L189.60 488.59 L193.13 484.49 L196.67 480.40 L200.20 476.30 L203.73 472.20 L207.27 468.10 L210.80 464.01 L214.33 460.12 L217.87 456.24 L221.40 452.36 L224.93 448.48 L228.47 444.60 L232.00 440.72 L235.53 436.85 L239.07 432.97 L242.60 429.09 L246.13 425.21 L249.67 421.33 L253.20 417.45 L256.73 413.57 L260.27 409.69 L263.80 405.81 L267.33 401.94 L270.87 398.06 L274.40 394.18 L277.93 390.30 L281.47 386.42 L285.00 382.54" stroke="#a0a0a0" stroke-width="1.4" stroke-dasharray="2.3 2"/>
<line x1="73" y1="611.10" x2="285" y2="378.75" stroke="#a0a0a0" stroke-width="1.4"/>
</g>
<g clip-path="url(#cclip)">
<path d="M228.90 426.70H250.40M239.60 409.50V451.00" stroke="#d2d2d2" stroke-width="1.2" fill="none"/>
<path d="M228.90 423.40V430.00M250.40 423.40V430.00M236.30 409.50H242.90M236.30 451.00H242.90" stroke="#d2d2d2" stroke-width="1.2" fill="none"/>
<path d="M165.80 479.30H202.50M183.90 450.50V545.30" stroke="#d2d2d2" stroke-width="1.2" fill="none"/>
<path d="M165.80 476.00V482.60M202.50 476.00V482.60M180.60 450.50H187.20M180.60 545.30H187.20" stroke="#d2d2d2" stroke-width="1.2" fill="none"/>
<path d="M168.00 491.60H197.20M182.30 460.00V535.70" stroke="#d2d2d2" stroke-width="1.2" fill="none"/>
<path d="M168.00 488.30V494.90M197.20 488.30V494.90M179.00 460.00H185.60M179.00 535.70H185.60" stroke="#d2d2d2" stroke-width="1.2" fill="none"/>
<path d="M177.00 488.20H207.00M191.90 457.50V556.60" stroke="#d2d2d2" stroke-width="1.2" fill="none"/>
<path d="M177.00 484.90V491.50M207.00 484.90V491.50M188.60 457.50H195.20M188.60 556.60H195.20" stroke="#d2d2d2" stroke-width="1.2" fill="none"/>
<path d="M152.10 491.50H171.00M161.60 455.30V593.50" stroke="#d2d2d2" stroke-width="1.2" fill="none"/>
<path d="M152.10 488.20V494.80M171.00 488.20V494.80M158.30 455.30H164.90M158.30 593.50H164.90" stroke="#d2d2d2" stroke-width="1.2" fill="none"/>
<path d="M151.60 509.70H190.30M170.80 486.00V533.00" stroke="#d2d2d2" stroke-width="1.2" fill="none"/>
<path d="M151.60 506.40V513.00M190.30 506.40V513.00M167.50 486.00H174.10M167.50 533.00H174.10" stroke="#d2d2d2" stroke-width="1.2" fill="none"/>
<path d="M140.40 522.30H202.00M171.50 481.20V640.00" stroke="#d2d2d2" stroke-width="1.2" fill="none"/>
<path d="M140.40 519.00V525.60M202.00 519.00V525.60M168.20 481.20H174.80" stroke="#d2d2d2" stroke-width="1.2" fill="none"/>
<path d="M84.60 557.90H137.40M111.10 530.60V609.10" stroke="#d2d2d2" stroke-width="1.2" fill="none"/>
<path d="M84.60 554.60V561.20M137.40 554.60V561.20M107.80 530.60H114.40M107.80 609.10H114.40" stroke="#d2d2d2" stroke-width="1.2" fill="none"/>
<path d="M60.00 564.20H132.70M103.30 545.00V640.00" stroke="#d2d2d2" stroke-width="1.2" fill="none"/>
<path d="M132.70 560.90V567.50M100.00 545.00H106.60" stroke="#d2d2d2" stroke-width="1.2" fill="none"/>
</g>
<circle cx="239.60" cy="426.70" r="4.5" fill="#cc0000" stroke="none" stroke-width="0"/>
<circle cx="300.20" cy="449.40" r="4.5" fill="#4477cc" stroke="none" stroke-width="0"/>
<circle cx="183.90" cy="479.30" r="4.5" fill="#0000ee" stroke="none" stroke-width="0"/>
<circle cx="182.30" cy="491.60" r="4.5" fill="#ff8c00" stroke="none" stroke-width="0"/>
<circle cx="191.90" cy="488.20" r="4.5" fill="#9955cc" stroke="none" stroke-width="0"/>
<circle cx="161.60" cy="491.50" r="4.5" fill="#00cc00" stroke="none" stroke-width="0"/>
<circle cx="170.80" cy="509.70" r="4.0" fill="none" stroke="#f08080" stroke-width="2.2"/>
<circle cx="171.50" cy="522.30" r="4.5" fill="#33bbee" stroke="none" stroke-width="0"/>
<circle cx="111.10" cy="557.90" r="4.5" fill="#008000" stroke="none" stroke-width="0"/>
<circle cx="103.30" cy="564.20" r="4.5" fill="#ff00ff" stroke="none" stroke-width="0"/>
<path d="M171.50 520.50H232.00M201.60 487.20V599.10" stroke="#000" stroke-width="1.6" fill="none"/>
<path d="M171.50 517.20V523.80M232.00 517.20V523.80M198.30 487.20H204.90M198.30 599.10H204.90" stroke="#000" stroke-width="1.6" fill="none"/>
<path d="M171.50 526.30H240.50M205.80 494.50V595.50" stroke="#000" stroke-width="1.6" fill="none"/>
<path d="M171.50 523.00V529.60M240.50 523.00V529.60M202.50 494.50H209.10M202.50 595.50H209.10" stroke="#000" stroke-width="1.6" fill="none"/>
<circle cx="201.60" cy="520.50" r="4.4" fill="#000" stroke="none" stroke-width="0"/>
<circle cx="205.80" cy="526.30" r="4.3" fill="#fff" stroke="#000" stroke-width="1.8"/>
<path d="M201.5 526.3H210.1M205.8 522V530.6" stroke="#000" stroke-width="1.3"/>
<text x="258.40" y="402.30" font-size="10" text-anchor="middle" fill="#cc1111" color="#cc1111" font-weight="normal" style="stroke-width:0" >Hong Kong</text>
<text x="258.40" y="413.90" font-size="10" text-anchor="middle" fill="#cc1111" color="#cc1111" font-weight="normal" style="stroke-width:0" >Autumn</text>
<text x="258.40" y="425.50" font-size="10" text-anchor="middle" fill="#cc1111" color="#cc1111" font-weight="normal" style="stroke-width:0" >2018</text>
<text x="208.50" y="427.30" font-size="10" text-anchor="middle" fill="#1111dd" color="#1111dd" font-weight="normal" style="stroke-width:0" >Beijing</text>
<text x="208.50" y="439.30" font-size="10" text-anchor="middle" fill="#1111dd" color="#1111dd" font-weight="normal" style="stroke-width:0" >Autumn</text>
<text x="208.50" y="451.10" font-size="10" text-anchor="middle" fill="#1111dd" color="#1111dd" font-weight="normal" style="stroke-width:0" >2019</text>
<text x="176.50" y="447.80" font-size="10" text-anchor="middle" fill="#ff9922" color="#ff9922" font-weight="normal" style="stroke-width:0" >Nanjing</text>
<text x="176.50" y="459.80" font-size="10" text-anchor="middle" fill="#ff9922" color="#ff9922" font-weight="normal" style="stroke-width:0" >Autumn</text>
<text x="176.50" y="471.80" font-size="10" text-anchor="middle" fill="#ff9922" color="#ff9922" font-weight="normal" style="stroke-width:0" >2018</text>
<text x="217.30" y="466.70" font-size="10" text-anchor="middle" fill="#9966cc" color="#9966cc" font-weight="normal" style="stroke-width:0" >Beijing</text>
<text x="217.30" y="478.40" font-size="10" text-anchor="middle" fill="#9966cc" color="#9966cc" font-weight="normal" style="stroke-width:0" >Spring</text>
<text x="217.30" y="490.10" font-size="10" text-anchor="middle" fill="#9966cc" color="#9966cc" font-weight="normal" style="stroke-width:0" >2019</text>
<text x="136.30" y="466.00" font-size="10" text-anchor="middle" fill="#22bb22" color="#22bb22" font-weight="normal" style="stroke-width:0" >Shanghai</text>
<text x="136.30" y="477.70" font-size="10" text-anchor="middle" fill="#22bb22" color="#22bb22" font-weight="normal" style="stroke-width:0" >Autumn</text>
<text x="136.30" y="489.40" font-size="10" text-anchor="middle" fill="#22bb22" color="#22bb22" font-weight="normal" style="stroke-width:0" >2018</text>
<text x="141.40" y="505.80" font-size="10" text-anchor="middle" fill="#f08888" color="#f08888" font-weight="normal" style="stroke-width:0" >Beijing</text>
<text x="141.40" y="517.70" font-size="10" text-anchor="middle" fill="#f08888" color="#f08888" font-weight="normal" style="stroke-width:0" >Autumn</text>
<text x="141.40" y="529.70" font-size="10" text-anchor="middle" fill="#f08888" color="#f08888" font-weight="normal" style="stroke-width:0" >2018</text>
<text x="150.60" y="541.70" font-size="10" text-anchor="middle" fill="#33bbee" color="#33bbee" font-weight="normal" style="stroke-width:0" >Shanghai</text>
<text x="150.60" y="553.50" font-size="10" text-anchor="middle" fill="#33bbee" color="#33bbee" font-weight="normal" style="stroke-width:0" >Winter</text>
<text x="150.60" y="565.50" font-size="10" text-anchor="middle" fill="#33bbee" color="#33bbee" font-weight="normal" style="stroke-width:0" >2018</text>
<text x="100.90" y="525.30" font-size="10" text-anchor="middle" fill="#118811" color="#118811" font-weight="normal" style="stroke-width:0" >Beijing</text>
<text x="100.90" y="537.00" font-size="10" text-anchor="middle" fill="#118811" color="#118811" font-weight="normal" style="stroke-width:0" >Winter</text>
<text x="100.90" y="548.90" font-size="10" text-anchor="middle" fill="#118811" color="#118811" font-weight="normal" style="stroke-width:0" >2019</text>
<text x="103.00" y="582.60" font-size="10" text-anchor="middle" fill="#ff22ff" color="#ff22ff" font-weight="normal" style="stroke-width:0" >Beijing</text>
<text x="103.00" y="594.20" font-size="10" text-anchor="middle" fill="#ff22ff" color="#ff22ff" font-weight="normal" style="stroke-width:0" >Winter</text>
<text x="103.00" y="605.70" font-size="10" text-anchor="middle" fill="#ff22ff" color="#ff22ff" font-weight="normal" style="stroke-width:0" >2018</text>
<text x="298.00" y="464.70" font-size="10" text-anchor="middle" fill="#4477cc" color="#4477cc" font-weight="normal" style="stroke-width:0" >Xiamen</text>
<text x="298.00" y="476.70" font-size="10" text-anchor="middle" fill="#4477cc" color="#4477cc" font-weight="normal" style="stroke-width:0" >Autumn</text>
<text x="298.00" y="488.60" font-size="10" text-anchor="middle" fill="#4477cc" color="#4477cc" font-weight="normal" style="stroke-width:0" >2021</text>
<text x="226.30" y="540.60" font-size="10" text-anchor="middle" fill="#111" color="#111" font-weight="bold" >Beijing</text>
<text x="226.30" y="552.40" font-size="10" text-anchor="middle" fill="#111" color="#111" font-weight="bold" >Autumn</text>
<text x="226.30" y="564.30" font-size="10" text-anchor="middle" fill="#111" color="#111" font-weight="bold" >2021</text>
</g>
<g id="pd">
<text x="425.00" y="365.50" font-size="24" text-anchor="start" fill="#1a1a1a" color="#1a1a1a" font-weight="bold" >d</text>
<path d="M423.3 377.4H677.1V631.2H423.3Z" fill="none" stroke="#1a1a1a" stroke-width="1.3"/>
<line x1="409.30" y1="631.20" x2="423.30" y2="631.20" stroke="#1a1a1a" stroke-width="1.3" />
<text x="402.50" y="636.50" font-size="15" text-anchor="end" fill="#1a1a1a" color="#1a1a1a" font-weight="normal" >4.0</text>
<line x1="409.30" y1="597.30" x2="423.30" y2="597.30" stroke="#1a1a1a" stroke-width="1.3" />
<text x="402.50" y="602.60" font-size="15" text-anchor="end" fill="#1a1a1a" color="#1a1a1a" font-weight="normal" >4.2</text>
<line x1="409.30" y1="563.40" x2="423.30" y2="563.40" stroke="#1a1a1a" stroke-width="1.3" />
<text x="402.50" y="568.70" font-size="15" text-anchor="end" fill="#1a1a1a" color="#1a1a1a" font-weight="normal" >4.4</text>
<line x1="409.30" y1="529.50" x2="423.30" y2="529.50" stroke="#1a1a1a" stroke-width="1.3" />
<text x="402.50" y="534.80" font-size="15" text-anchor="end" fill="#1a1a1a" color="#1a1a1a" font-weight="normal" >4.6</text>
<line x1="409.30" y1="495.60" x2="423.30" y2="495.60" stroke="#1a1a1a" stroke-width="1.3" />
<text x="402.50" y="500.90" font-size="15" text-anchor="end" fill="#1a1a1a" color="#1a1a1a" font-weight="normal" >4.8</text>
<line x1="409.30" y1="461.70" x2="423.30" y2="461.70" stroke="#1a1a1a" stroke-width="1.3" />
<text x="402.50" y="467.00" font-size="15" text-anchor="end" fill="#1a1a1a" color="#1a1a1a" font-weight="normal" >5.0</text>
<line x1="409.30" y1="427.80" x2="423.30" y2="427.80" stroke="#1a1a1a" stroke-width="1.3" />
<text x="402.50" y="433.10" font-size="15" text-anchor="end" fill="#1a1a1a" color="#1a1a1a" font-weight="normal" >5.2</text>
<line x1="409.30" y1="393.90" x2="423.30" y2="393.90" stroke="#1a1a1a" stroke-width="1.3" />
<text x="402.50" y="399.20" font-size="15" text-anchor="end" fill="#1a1a1a" color="#1a1a1a" font-weight="normal" >5.4</text>
<line x1="423.50" y1="631.20" x2="423.50" y2="645.20" stroke="#1a1a1a" stroke-width="1.3" />
<text x="423.50" y="663.60" font-size="15" text-anchor="middle" fill="#1a1a1a" color="#1a1a1a" font-weight="normal" >0</text>
<line x1="465.77" y1="631.20" x2="465.77" y2="645.20" stroke="#1a1a1a" stroke-width="1.3" />
<text x="465.77" y="663.60" font-size="15" text-anchor="middle" fill="#1a1a1a" color="#1a1a1a" font-weight="normal" >10</text>
<line x1="508.04" y1="631.20" x2="508.04" y2="645.20" stroke="#1a1a1a" stroke-width="1.3" />
<text x="508.04" y="663.60" font-size="15" text-anchor="middle" fill="#1a1a1a" color="#1a1a1a" font-weight="normal" >20</text>
<line x1="550.31" y1="631.20" x2="550.31" y2="645.20" stroke="#1a1a1a" stroke-width="1.3" />
<text x="550.31" y="663.60" font-size="15" text-anchor="middle" fill="#1a1a1a" color="#1a1a1a" font-weight="normal" >30</text>
<line x1="592.58" y1="631.20" x2="592.58" y2="645.20" stroke="#1a1a1a" stroke-width="1.3" />
<text x="592.58" y="663.60" font-size="15" text-anchor="middle" fill="#1a1a1a" color="#1a1a1a" font-weight="normal" >40</text>
<line x1="634.85" y1="631.20" x2="634.85" y2="645.20" stroke="#1a1a1a" stroke-width="1.3" />
<text x="634.85" y="663.60" font-size="15" text-anchor="middle" fill="#1a1a1a" color="#1a1a1a" font-weight="normal" >50</text>
<line x1="677.12" y1="631.20" x2="677.12" y2="645.20" stroke="#1a1a1a" stroke-width="1.3" />
<text x="677.12" y="663.60" font-size="15" text-anchor="middle" fill="#1a1a1a" color="#1a1a1a" font-weight="normal" >60</text>
<text x="518.6" y="682.5" font-size="15" fill="#1a1a1a" color="#1a1a1a">NO<tspan font-size="10" dy="2.6">x</tspan><tspan dy="0.1" font-size="15"> [ppb]</tspan></text>
<text transform="translate(366.2,598.6) rotate(-90)" font-size="14.7" fill="#1a1a1a" color="#1a1a1a">Concentration-weighted nO<tspan font-size="10.2" dy="1.5">eff</tspan></text>
<path d="M448.80 445.10H508.30M478.50 410.90V479.10" stroke="#1a1a1a" stroke-width="1.5" fill="none"/>
<path d="M448.80 442.10V448.10M508.30 442.10V448.10M475.50 410.90H481.50M475.50 479.10H481.50" stroke="#1a1a1a" stroke-width="1.5" fill="none"/>
<path d="M491.00 487.30H558.90M524.60 453.70V521.30" stroke="#1a1a1a" stroke-width="1.5" fill="none"/>
<path d="M491.00 484.30V490.30M558.90 484.30V490.30M521.60 453.70H527.60M521.60 521.30H527.60" stroke="#1a1a1a" stroke-width="1.5" fill="none"/>
<circle cx="478.50" cy="445.10" r="4.3" fill="#fff" stroke="#000" stroke-width="2.0"/>
<path d="M473.8 445.1H483.2M478.5 440.4V449.8" stroke="#1a1a1a" stroke-width="1.3"/>
<circle cx="524.60" cy="487.30" r="4.5" fill="#000" stroke="none" stroke-width="0"/>
<circle cx="459.80" cy="416.20" r="4.5" fill="#4477cc" stroke="none" stroke-width="0"/>
<circle cx="436.50" cy="521.20" r="4.5" fill="#cc0000" stroke="none" stroke-width="0"/>
<circle cx="505.00" cy="568.60" r="4.5" fill="#ff8c00" stroke="none" stroke-width="0"/>
<circle cx="529.80" cy="553.20" r="4.5" fill="#9955cc" stroke="none" stroke-width="0"/>
<circle cx="623.00" cy="504.20" r="4.5" fill="#00cc00" stroke="none" stroke-width="0"/>
<circle cx="592.10" cy="599.10" r="4.5" fill="#008000" stroke="none" stroke-width="0"/>
<circle cx="618.80" cy="592.30" r="4.5" fill="#ff00ff" stroke="none" stroke-width="0"/>
<circle cx="641.60" cy="609.10" r="4.5" fill="#0000ee" stroke="none" stroke-width="0"/>
<text x="443.00" y="390.30" font-size="10" text-anchor="middle" fill="#4477cc" color="#4477cc" font-weight="normal" style="stroke-width:0" >Xiamen</text>
<text x="443.00" y="402.10" font-size="10" text-anchor="middle" fill="#4477cc" color="#4477cc" font-weight="normal" style="stroke-width:0" >Autumn</text>
<text x="443.00" y="413.90" font-size="10" text-anchor="middle" fill="#4477cc" color="#4477cc" font-weight="normal" style="stroke-width:0" >2021</text>
<text x="500.20" y="458.60" font-size="10" text-anchor="middle" fill="#111" color="#111" font-weight="bold" >Beijing</text>
<text x="500.20" y="470.20" font-size="10" text-anchor="middle" fill="#111" color="#111" font-weight="bold" >Autumn</text>
<text x="500.20" y="481.60" font-size="10" text-anchor="middle" fill="#111" color="#111" font-weight="bold" >2021</text>
<text x="459.30" y="509.40" font-size="10" text-anchor="middle" fill="#cc1111" color="#cc1111" font-weight="normal" style="stroke-width:0" >Hong Kong</text>
<text x="459.30" y="521.00" font-size="10" text-anchor="middle" fill="#cc1111" color="#cc1111" font-weight="normal" style="stroke-width:0" >Autumn</text>
<text x="459.30" y="532.70" font-size="10" text-anchor="middle" fill="#cc1111" color="#cc1111" font-weight="normal" style="stroke-width:0" >2018</text>
<text x="482.20" y="562.90" font-size="10" text-anchor="middle" fill="#ff9922" color="#ff9922" font-weight="normal" style="stroke-width:0" >Nanjing</text>
<text x="482.20" y="574.70" font-size="10" text-anchor="middle" fill="#ff9922" color="#ff9922" font-weight="normal" style="stroke-width:0" >Autumn</text>
<text x="482.20" y="586.50" font-size="10" text-anchor="middle" fill="#ff9922" color="#ff9922" font-weight="normal" style="stroke-width:0" >2018</text>
<text x="597.30" y="499.80" font-size="10" text-anchor="middle" fill="#22bb22" color="#22bb22" font-weight="normal" style="stroke-width:0" >Shanghai</text>
<text x="597.30" y="511.50" font-size="10" text-anchor="middle" fill="#22bb22" color="#22bb22" font-weight="normal" style="stroke-width:0" >Autumn</text>
<text x="597.30" y="523.20" font-size="10" text-anchor="middle" fill="#22bb22" color="#22bb22" font-weight="normal" style="stroke-width:0" >2018</text>
<text x="549.20" y="547.10" font-size="10" text-anchor="middle" fill="#9966cc" color="#9966cc" font-weight="normal" style="stroke-width:0" >Beijing</text>
<text x="549.20" y="558.80" font-size="10" text-anchor="middle" fill="#9966cc" color="#9966cc" font-weight="normal" style="stroke-width:0" >Spring</text>
<text x="549.20" y="570.60" font-size="10" text-anchor="middle" fill="#9966cc" color="#9966cc" font-weight="normal" style="stroke-width:0" >2019</text>
<text x="617.90" y="562.00" font-size="10" text-anchor="middle" fill="#ff22ff" color="#ff22ff" font-weight="normal" style="stroke-width:0" >Beijing</text>
<text x="617.90" y="573.80" font-size="10" text-anchor="middle" fill="#ff22ff" color="#ff22ff" font-weight="normal" style="stroke-width:0" >Winter</text>
<text x="617.90" y="585.60" font-size="10" text-anchor="middle" fill="#ff22ff" color="#ff22ff" font-weight="normal" style="stroke-width:0" >2018</text>
<text x="569.70" y="594.90" font-size="10" text-anchor="middle" fill="#118811" color="#118811" font-weight="normal" style="stroke-width:0" >Beijing</text>
<text x="569.70" y="606.80" font-size="10" text-anchor="middle" fill="#118811" color="#118811" font-weight="normal" style="stroke-width:0" >Winter</text>
<text x="569.70" y="618.50" font-size="10" text-anchor="middle" fill="#118811" color="#118811" font-weight="normal" style="stroke-width:0" >2019</text>
<text x="658.50" y="590.50" font-size="10" text-anchor="middle" fill="#1111dd" color="#1111dd" font-weight="normal" style="stroke-width:0" >Beijing</text>
<text x="658.50" y="602.20" font-size="10" text-anchor="middle" fill="#1111dd" color="#1111dd" font-weight="normal" style="stroke-width:0" >Autumn</text>
<text x="658.50" y="613.80" font-size="10" text-anchor="middle" fill="#1111dd" color="#1111dd" font-weight="normal" style="stroke-width:0" >2019</text>
</g>
</svg></body></html>
